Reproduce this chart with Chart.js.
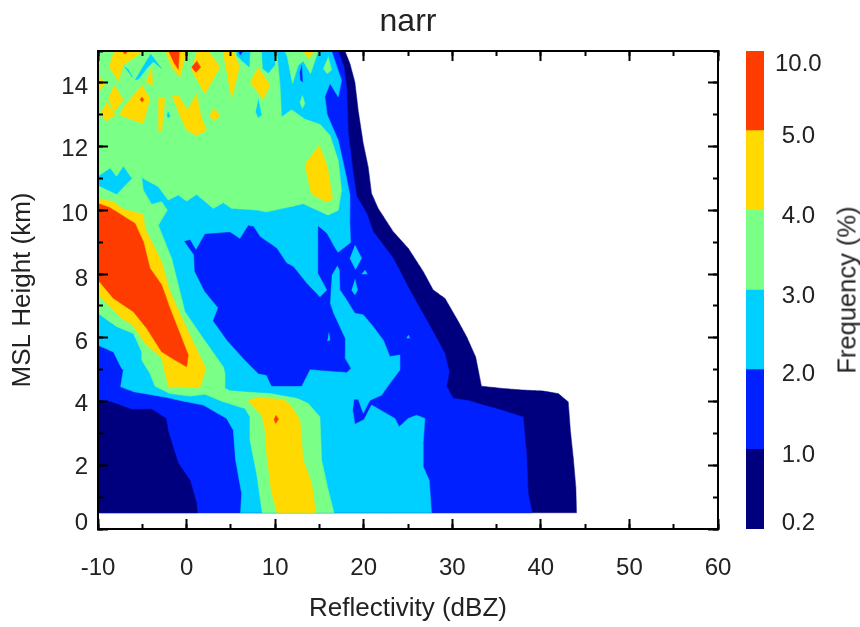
<!DOCTYPE html>
<html>
<head>
<meta charset="utf-8">
<title>narr</title>
<script src="https://cdn.jsdelivr.net/npm/chart.js@4/dist/chart.umd.min.js"></script>
<style>
  html, body { margin: 0; padding: 0; background: #fff; }
  #wrap { position: relative; width: 860px; height: 627px; overflow: hidden; }
  canvas { position: absolute; top: 0; }
  #main { left: 0; }
  #bar { left: 746px; }
  #barTitle {
    position: absolute; left: 847px; top: 290px; white-space: nowrap;
    font: 25.5px "Liberation Sans", sans-serif; color: #222;
    transform: translate(-50%, -50%) rotate(-90deg);
  }
</style>
</head>
<body>
<div id="wrap">
  <canvas id="main" width="860" height="627"></canvas>
  <canvas id="bar" width="114" height="627"></canvas>
  <div id="barTitle">Frequency (%)</div>
</div>
<script>
// contour regions as [reflectivity dBZ, height km]
const navyOuter = [[[-10,0.51],[44.03,0.51],[43.95,1.33],[43.65,2.27],[43.35,3.05],[43.09,3.99],[41.96,4.25],[40.27,4.33],[38,4.36],[35.75,4.41],[33.3,4.48],[32.93,4.99],[32.63,5.41],[31.61,6.04],[30.48,6.61],[29.17,7.24],[27.85,7.5],[26.72,8.08],[25.03,8.81],[23.34,9.33],[21.64,10.06],[20.89,10.53],[20.5,11.37],[19.95,12.1],[19.4,13.09],[19,14.03],[18.45,14.6],[17.88,15],[-10,15]]];
const blueOuter = [[[-10,0.51],[39.02,0.51],[38.57,1.12],[38.38,2.37],[38,3.52],[35.56,3.73],[33.49,3.89],[31.99,4.02],[30.11,4.1],[29.35,4.48],[29.66,4.93],[29.17,5.51],[27.1,6.56],[25.2,7.5],[23.34,8.5],[21.08,9.33],[20.33,9.91],[19.2,10.44],[18.82,11.16],[18.26,12.41],[18.07,13.88],[17.77,14.5],[17.13,15],[-10,15]]];
const cyanMain = [[[-10,5.77],[-8.27,5.56],[-7.33,5.04],[-7.14,4.99],[-7.44,4.46],[-6,4.31],[-2.62,4.15],[0,3.99],[1.89,3.89],[4.52,3.47],[5.28,3.1],[5.54,2.16],[6.22,1.12],[6.1,0.51],[27.66,0.51],[27.4,1.53],[26.72,1.95],[26.72,2.68],[26.91,3.47],[25.97,3.57],[25.03,3.47],[24.01,3.21],[23.52,3.47],[20.89,3.89],[20.06,3.44],[19.01,3.29],[18.75,3.73],[18.9,4.07],[19.39,4.07],[19.95,3.63],[20.7,4.04],[22.02,4.2],[22.96,4.57],[24.09,4.99],[24.09,5.46],[22.96,5.41],[22.21,5.93],[21.08,6.35],[19.95,6.72],[19.01,6.77],[18.07,7.19],[17.32,7.5],[17.24,8.13],[16.94,8.29],[16.94,8.65],[18.52,8.99],[18.44,9.59],[18.45,10.48],[17.88,11.26],[17.13,12.2],[15.89,12.99],[15.62,13.56],[16.19,13.98],[17.13,13.56],[17.5,14.08],[16.37,15],[-10,15]]];
const blueBlob = [[[-0.25,9.02],[0.39,9.07],[1.06,8.75],[2.08,9.25],[4.9,9.31],[6.03,9.1],[6.97,9.52],[7.54,9.49],[8.29,9.17],[10.17,8.81],[11.3,8.34],[12.05,8.23],[13.55,7.71],[15.06,7.27],[15.89,7.5],[14.87,8.02],[14.87,9.49],[15.81,9.28],[16.75,8.81],[17.13,8.65],[17.02,8.28],[16.38,7.97],[16.19,7.08],[16.56,6.77],[17.88,5.98],[17.88,5.35],[18.52,5.04],[18.07,4.92],[13.93,5.01],[12.99,4.49],[9.6,4.49],[9.04,4.83],[8.1,4.88],[6.59,5.3],[4.71,5.88],[3.02,6.53],[3.58,6.94],[2.08,7.45],[0.95,8.07],[0.84,8.6]]];
const cyanSpots = [
  [[19.01,8.91],[19.76,8.5],[19.08,8.15],[18.44,8.5]],
  [[20.14,8.13],[20.4,8.0],[19.76,8.0]],
  [[19.01,7.84],[19.31,7.5],[19.01,7.35],[18.63,7.5]],
  [[25.03,6.09],[25.22,5.99],[24.84,5.99]],
  [[16.07,6.17],[16.19,5.93],[15.89,5.9]]
];
const greenMain = [[[14.87,15],[14,14.29],[13.18,14.69],[12.61,14.56],[11.97,13.98],[11.37,14.82],[11.11,15],[10.17,15],[10.54,13.98],[10.73,12.93],[11.86,13.16],[13.37,12.86],[15.06,12.7],[16.19,12.36],[17.13,11.57],[17.5,10.63],[17.13,10],[16,9.85],[13.18,10.21],[11.67,10.11],[9.04,9.95],[7.91,10.01],[5.09,10.06],[4.15,10.24],[3.02,10.06],[1.14,10.5],[0,10.29],[-0.93,10.48],[-2.06,10.32],[-3.19,10.74],[-5.07,11.03],[-4.88,10.63],[-3.94,10.19],[-2.81,10.27],[-2.17,10.01],[-3.19,9.53],[-1.68,8.49],[-0.93,7.66],[-0.18,6.82],[1.89,5.98],[4.15,5.09],[4.34,4.88],[4.34,4.41],[4.9,4.34],[7.16,4.29],[9.42,4.25],[12.43,4.1],[13.74,3.94],[15.06,3.52],[15.25,2.16],[16,1.22],[16.64,0.51],[8.55,0.51],[7.91,1.74],[7.16,2.79],[7.16,3.52],[6.59,3.78],[4.15,3.99],[2.08,4.23],[0.39,4.17],[-1.87,4.25],[-3.56,4.48],[-4.13,4.88],[-5.07,5.3],[-5.07,5.56],[-6.01,6.14],[-7.89,6.35],[-10,6.77],[-10,15]]];
const greenSpots = [
  [[16,14.82],[16.38,14.4],[15.89,14.29],[15.43,14.45]],
  [[13.07,13.61],[13.36,13.35],[13.07,13.2],[12.8,13.4]]
];
const cyanPatches = [
  [[-10,11.05],[-8.64,11.31],[-7.89,11.05],[-7.14,11.37],[-6.2,11],[-7.89,10.51],[-10,10.79]],
  [[-5.82,14.08],[-4.69,14.61],[-4.05,14.9],[-2.81,14.45],[-3.75,14.66],[-4.5,14.45],[-5.45,14.11]],
  [[-7.03,14.52],[-6.08,14.17],[-6.57,14.42]],
  [[5.65,15],[7.16,15],[7.08,14.5],[6.4,14.66],[5.65,14.87]],
  [[8.48,15],[9.98,15],[9.98,14.56],[9.23,14.31],[8.59,14.45]],
  [[8.1,13.48],[8.47,12.99],[8.1,12.91],[7.8,13.09]],
  [[-2.1,13.1],[-1.85,12.95],[-2.1,12.9],[-2.2,13]]
];
const bluePatches = [
  [[5.84,15],[6.4,15],[6.03,14.87]],
  [[12.99,14.56],[13.1,14.03],[12.88,14.08],[12.8,14.35]]
];
const yellowPatches = [
  [[-8.34,14.87],[-8.72,14.5],[-7.7,14.06],[-7.14,14.56],[-5.26,14.92],[-5.26,15],[-8.27,15]],
  [[-3.94,14.56],[-3.83,13.93],[-4.58,14.03],[-4.2,14.29]],
  [[-2.44,15],[0,15],[-0.74,14.17],[-1.68,14.5]],
  [[1.14,15],[2.46,15],[3.77,14.5],[2.08,13.65],[0.57,14.4]],
  [[4.07,15],[5.28,15],[5.95,14.5],[5.09,13.48]],
  [[8.1,14.48],[9.42,13.93],[8.66,13.48],[7.16,14.03]],
  [[13.18,15],[14.5,15],[13.74,14.76]],
  [[-10,14.24],[-9.2,13.98],[-10,13.67]],
  [[-8.19,13.93],[-7.14,13.48],[-8.19,13.07],[-8.83,13.51]],
  [[-9.02,13.4],[-8.08,12.99],[-9.09,12.8],[-9.7,13.06]],
  [[-5.07,13.93],[-4.13,13.51],[-4.88,12.72],[-7.59,12.99],[-6.95,13.3]],
  [[-3.19,13.54],[-2.44,13.51],[-2.81,12.46],[-3.19,12.5]],
  [[-1.68,13.61],[-0.93,13.61],[0.09,13.14],[1.14,13.65],[1.7,12.88],[2.27,12.52],[1.14,12.34],[0,12.52],[-0.93,13.09]],
  [[3.1,13.2],[3.77,12.99],[3.1,12.8],[2.57,12.99]],
  [[14.98,12.05],[15.89,11.37],[16.49,10.37],[15.89,10.25],[14.12,10.51],[13.48,11.26],[13.48,11.49]],
  [[-10,10.38],[-8.27,10.27],[-7.14,10.04],[-4.88,9.87],[-4.69,9.43],[-2.81,8.39],[-1.87,7.45],[0,6.3],[2.08,5.09],[2.15,4.99],[1.52,4.44],[-2.06,4.46],[-2.81,5.35],[-4.69,5.83],[-6.01,6.38],[-7.33,6.61],[-8.64,6.98],[-10,7.34]],
  [[6.86,4.02],[7.91,4.12],[10.92,4.07],[11.86,3.84],[12.8,3.42],[13.18,2.16],[14.12,1.43],[14.61,0.51],[10.24,0.51],[9.6,1.12],[9.04,2.37],[8.85,3.1],[8.48,3.57],[7.53,3.84]]
];
const redPatches = [
  [[-10,10.22],[-8.64,10.08],[-5.82,9.59],[-4.88,9.02],[-4.13,8.18],[-2.81,7.66],[-1.87,6.92],[0.2,5.46],[0,5.09],[-1.31,5.3],[-2.81,5.56],[-4.5,6.3],[-6.01,6.82],[-8.27,7.24],[-10,7.81]],
  [[-2.06,15],[-0.82,15],[-0.93,14.42],[-1.49,14.66]],
  [[1.14,14.69],[1.59,14.5],[1.06,14.33],[0.57,14.5]],
  [[-7.33,15],[-6.57,15],[-6.95,14.9]],
  [[-5.07,13.56],[-4.81,13.48],[-5,13.4],[-5.26,13.48]],
  [[10.09,3.57],[10.39,3.45],[10.06,3.31],[9.87,3.45]]
];
const navyLow = [[[-10,4.02],[-8.57,3.99],[-6.2,3.75],[-3.94,3.76],[-2.32,3.47],[-2.06,3.05],[-0.93,2.06],[0.39,1.53],[1.14,0.8],[1.21,0.51],[-10,0.51]]];

const heightLabels = ['0', '2', '4', '6', '8', '10', '12', '14'];
const heightLabelSpots = [0.25, 2.01, 3.98, 5.93, 7.91, 9.95, 11.99, 13.93];
const levelLabels = ['0.2', '1.0', '2.0', '3.0', '4.0', '5.0', '10.0'];
const levelLabelSpots = [0.1, 0.95, 1.96, 2.94, 3.95, 4.95, 5.86];

const NAVY = '#00007f', BLUE = '#0020ff', CYAN = '#00d0ff', GREEN = '#7aff87', YELLOW = '#ffd900', RED = '#ff3c00';
const bandColors = [NAVY, BLUE, CYAN, GREEN, YELLOW, RED];
const FONT = 'Liberation Sans';
const TEXT = '#222';

// back to front
const layers = [
  [navyOuter, NAVY], [blueOuter, BLUE], [navyLow, NAVY], [cyanMain, CYAN], [blueBlob, BLUE], [cyanSpots, CYAN],
  [greenMain, GREEN], [greenSpots, GREEN], [cyanPatches, CYAN], [bluePatches, BLUE], [yellowPatches, YELLOW], [redPatches, RED]
];

const datasets = [];
layers.forEach(([polys, color]) => {
  polys.forEach(poly => {
    datasets.push({
      data: poly.map(([x, y]) => ({x, y})),
      fill: 'shape',
      backgroundColor: color,
      borderColor: color,
      borderWidth: 0.5,
      pointRadius: 0,
      tension: 0.001,
      spanGaps: true,
      order: 1000 - datasets.length
    });
  });
});

// one frame side of the plot: a scale with inward ticks
function frameScale(position, min, max, step, len, extra) {
  return Object.assign({
    type: 'linear', position, min, max,
    afterFit: s => { if (s.isHorizontal()) s.height = 0; else s.width = 0; },
    grid: { display: true, drawOnChartArea: false, drawTicks: true, tickLength: -len, tickWidth: 2, tickColor: '#000', z: 1 },
    border: { display: len > 5, width: 2, color: '#000', z: 1 },
    ticks: { display: false, stepSize: step, includeBounds: false, autoSkip: false, maxRotation: 0 }
  }, extra || {});
}

const xBottom = frameScale('bottom', -10, 60, 10, 10, {
  afterFit: s => { s.height = 98; },
  title: { display: true, text: 'Reflectivity (dBZ)', color: TEXT, font: { family: FONT, size: 26 }, padding: { top: 0, bottom: 2.4 } }
});
xBottom.ticks = { display: true, stepSize: 10, includeBounds: false, autoSkip: false, maxRotation: 0, color: TEXT, padding: 35, font: { family: FONT, size: 24 } };

// label-only scale, the ticks of this side come from yMajor
const yLeft = {
  type: 'linear', position: 'left', min: 0, max: 15,
  afterFit: s => { s.width = 98; },
  afterBuildTicks: s => { s.ticks = heightLabelSpots.map(value => ({ value })); },
  title: { display: true, text: 'MSL Height (km)', color: TEXT, font: { family: FONT, size: 26 }, padding: { top: 7, bottom: 0 } },
  grid: { display: false, drawTicks: false },
  border: { display: true, width: 2, color: '#000', z: 1 },
  ticks: { color: TEXT, padding: 10, labelOffset: 2, autoSkip: false, font: { family: FONT, size: 24 }, callback: (v, i) => heightLabels[i] }
};

new Chart(document.getElementById('main'), {
  type: 'line',
  data: { datasets },
  options: {
    responsive: false,
    animation: false,
    layout: { padding: { right: 142 } },
    plugins: {
      legend: { display: false },
      tooltip: { enabled: false },
      title: {
        display: true, text: 'narr', color: TEXT, fullSize: false,
        font: { family: FONT, size: 32, weight: 'normal' },
        padding: { top: 3, bottom: 9.6 }
      }
    },
    scales: {
      x: xBottom,
      xTop: frameScale('top', -10, 60, 10, 10),
      xMinor: frameScale('bottom', -10, 60, 5, 5, { weight: -1 }),
      xMinorTop: frameScale('top', -10, 60, 5, 5, { weight: -1 }),
      y: yLeft,
      yMajor: frameScale('left', 0, 15, 2, 10, { weight: -1 }),
      yRight: frameScale('right', 0, 15, 2, 10),
      yMinor: frameScale('left', 0, 15, 1, 5, { weight: -1 }),
      yMinorRight: frameScale('right', 0, 15, 1, 5, { weight: -1 })
    }
  }
});

// colour bar
new Chart(document.getElementById('bar'), {
  type: 'bar',
  data: {
    labels: [''],
    datasets: bandColors.map(c => ({ data: [1], backgroundColor: c, barPercentage: 1, categoryPercentage: 1 }))
  },
  options: {
    responsive: false,
    animation: false,
    layout: { padding: { top: 51, bottom: 98 } },
    plugins: { legend: { display: false }, tooltip: { enabled: false } },
    scales: {
      x: { display: false, stacked: true },
      y: {
        stacked: true, position: 'right', min: 0, max: 6,
        afterFit: s => { s.width = 96; },
        afterBuildTicks: s => { s.ticks = levelLabelSpots.map(value => ({ value })); },
        grid: { display: false },
        border: { display: false },
        ticks: {
          color: TEXT, padding: 3, crossAlign: 'center', labelOffset: 2, autoSkip: false,
          font: { family: FONT, size: 24 },
          callback: (v, i) => levelLabels[i]
        }
      }
    }
  }
});
</script>
</body>
</html>
